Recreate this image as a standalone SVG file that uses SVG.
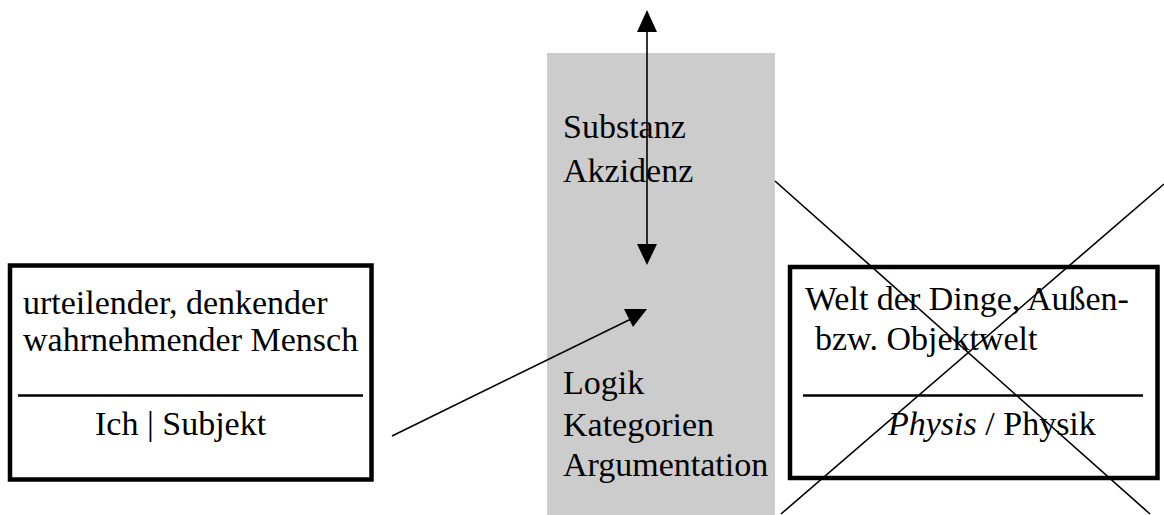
<svg xmlns="http://www.w3.org/2000/svg" width="1164" height="515" viewBox="0 0 1164 515">
<style>
  .t { font-family: "Liberation Serif", "Times New Roman", serif; font-size: 34px; fill: #000; }
  .box { fill: #fff; stroke: #000; stroke-width: 4.5; }
  .div { stroke: #000; stroke-width: 2.5; }
  .ln { stroke: #000; stroke-width: 1.6; fill: none; }
  .head { fill: #000; stroke: none; }
</style>
<rect x="0" y="0" width="1164" height="515" fill="#fff"/>
<g id="center">
  <rect x="547" y="53" width="228" height="462" fill="#cccccc"/>
  <text class="t" x="563" y="138">Substanz</text>
  <text class="t" x="563" y="182">Akzidenz</text>
  <text class="t" x="563" y="394">Logik</text>
  <text class="t" x="563" y="436">Kategorien</text>
  <text class="t" x="563" y="476">Argumentation</text>
</g>
<g id="subject">
  <rect class="box" x="10" y="265.5" width="361.5" height="214"/>
  <text class="t" x="23" y="314">urteilender, denkender</text>
  <text class="t" x="23" y="351">wahrnehmender Mensch</text>
  <line class="div" x1="18" y1="395.5" x2="363" y2="395.5"/>
  <text class="t" x="95" y="435">Ich | Subjekt</text>
</g>
<g id="object">
  <rect class="box" x="790" y="267" width="367.5" height="211"/>
  <text class="t" x="805" y="310">Welt der Dinge, Außen-</text>
  <text class="t" x="815" y="350">bzw. Objektwelt</text>
  <line class="div" x1="803" y1="395.5" x2="1143" y2="395.5"/>
  <text class="t" x="888" y="435"><tspan font-style="italic">Physis</tspan> / Physik</text>
</g>
<g id="connectors">
  <line class="ln" x1="647" y1="30" x2="647" y2="246"/>
  <polygon class="head" points="647,10 637,32 657,32"/>
  <polygon class="head" points="637,244 657,244 647,265"/>
  <line class="ln" x1="392" y1="436" x2="633" y2="318"/>
  <polygon class="head" points="624,309 647,309 633,327"/>
  <line class="ln" x1="775" y1="181" x2="1150" y2="514"/>
  <line class="ln" x1="1164" y1="184" x2="781" y2="514"/>
</g>
</svg>
